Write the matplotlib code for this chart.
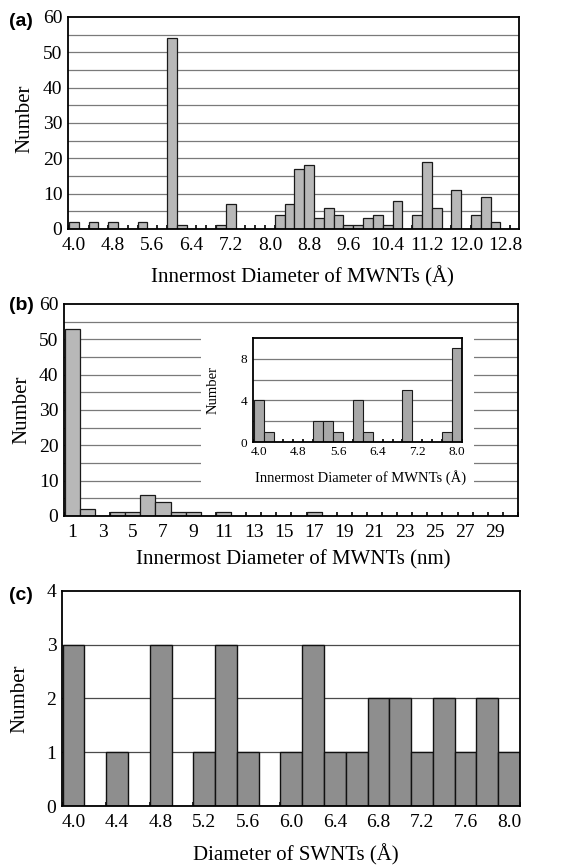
import numpy as np
import matplotlib
matplotlib.use("Agg")
import matplotlib.pyplot as plt
from matplotlib.patches import Rectangle

plt.rcParams['font.family'] = ['Liberation Serif', 'DejaVu Serif']

# (a) innermost diameter of MWNTs, 0.2 A bins from 4.0 to 12.8
a_bins = [round(4.0 + 0.2 * i, 1) for i in range(45)]
a_counts = {4.0: 2, 4.4: 2, 4.8: 2, 5.4: 2, 6.0: 54, 6.2: 1, 7.0: 1, 7.2: 7,
            8.2: 4, 8.4: 7, 8.6: 17, 8.8: 18, 9.0: 3, 9.2: 6, 9.4: 4, 9.6: 1,
            9.8: 1, 10.0: 3, 10.2: 4, 10.4: 1, 10.6: 8, 11.0: 4, 11.2: 19,
            11.4: 6, 11.8: 11, 12.2: 4, 12.4: 9, 12.6: 2}
a_values = [a_counts.get(b, 0) for b in a_bins]
a_ticklabels = ["4.0", "4.8", "5.6", "6.4", "7.2", "8.0", "8.8", "9.6",
                "10.4", "11.2", "12.0", "12.8"]

# (b) innermost diameter in nm, 1 nm bins 1..30
b_bins = list(range(1, 31))
b_counts = {1: 53, 2: 2, 4: 1, 5: 1, 6: 6, 7: 4, 8: 1, 9: 1, 11: 1, 17: 1}
b_values = [b_counts.get(b, 0) for b in b_bins]
b_ticklabels = [str(v) for v in range(1, 30, 2)]

# (b) inset, 4.0..8.0 A
ins_bins = [round(4.0 + 0.2 * i, 1) for i in range(21)]
ins_counts = {4.0: 4, 4.2: 1, 5.2: 2, 5.4: 2, 5.6: 1, 6.0: 4, 6.2: 1,
              7.0: 5, 7.8: 1, 8.0: 9}
ins_values = [ins_counts.get(b, 0) for b in ins_bins]
ins_ticklabels = ["4.0", "4.8", "5.6", "6.4", "7.2", "8.0"]

# (c) SWNT diameter
c_bins = [round(4.0 + 0.2 * i, 1) for i in range(21)]
c_values = [3, 0, 1, 0, 3, 0, 1, 3, 1, 0, 1, 3, 1, 1, 2, 2, 1, 2, 1, 2, 1]
c_ticklabels = ["4.0", "4.4", "4.8", "5.2", "5.6", "6.0", "6.4", "6.8",
                "7.2", "7.6", "8.0"]

fig = plt.figure(figsize=(5.61, 8.65), dpi=100)


def style_axes(ax, n, xlim, ylim, yticks, grid_y, ticklabels, step, fs, gcol, xpad=6):
    x = np.arange(n)
    ax.set_xlim(*xlim)
    ax.set_ylim(*ylim)
    ax.set_xticks(x[::step])
    ax.set_xticklabels(ticklabels, fontsize=fs)
    ax.set_xticks(np.arange(-0.5, n + 0.5), minor=True)
    ax.set_yticks(yticks)
    ax.tick_params(axis='y', labelsize=fs, length=0, pad=4)
    ax.tick_params(axis='x', which='major', length=0, pad=xpad)
    ax.tick_params(axis='x', which='minor', direction='in', length=3, width=1.2)
    for g in grid_y:
        ax.axhline(g, color=gcol, lw=0.9, zorder=0.5)
    for s in ax.spines.values():
        s.set_linewidth(1.3)
    return x


# panel (a)
ax1 = fig.add_axes([0.1212, 0.7353, 0.8039, 0.2451])
x = style_axes(ax1, len(a_bins), (-0.6, 45.4), (0, 60), range(0, 61, 10),
               range(5, 60, 5), a_ticklabels, 4, 14, '#7a7a7a')
ax1.bar(x, a_values, width=1.0, color='#b8b8b8', edgecolor='#1a1a1a', lw=0.9, zorder=2)
ax1.set_ylabel("Number", fontsize=15, va='center')
ax1.yaxis.set_label_coords(-0.095, 0.52)
ax1.set_xlabel("Innermost Diameter of MWNTs (Å)", fontsize=15, va='center')
ax1.xaxis.set_label_coords(0.519, -0.226)

# panel (b)
ax2 = fig.add_axes([0.1141, 0.4035, 0.8093, 0.2451])
x = style_axes(ax2, len(b_bins), (-0.55, 29.5), (0, 60), range(0, 61, 10),
               range(5, 60, 5), b_ticklabels, 2, 14, '#7a7a7a')
ax2.add_patch(Rectangle((8.55, 7.0), 18.05, 45.5, facecolor='white',
                        edgecolor='none', zorder=1))
ax2.bar(x, b_values, width=1.0, color='#b8b8b8', edgecolor='#1a1a1a', lw=0.9, zorder=2)
ax2.set_ylabel("Number", fontsize=15, va='center')
ax2.yaxis.set_label_coords(-0.093, 0.5)
ax2.set_xlabel("Innermost Diameter of MWNTs (nm)", fontsize=15, va='center')
ax2.xaxis.set_label_coords(0.504, -0.208)

# inset of (b)
axi = fig.add_axes([0.451, 0.4890, 0.3725, 0.1202])
x = style_axes(axi, len(ins_bins), (-0.57, 20.5), (0, 10), [0, 4, 8],
               [2, 4, 6, 8], ins_ticklabels, 4, 9.5, '#7a7a7a', xpad=3)
axi.bar(x, ins_values, width=1.0, color='#a8a8a8', edgecolor='#1a1a1a', lw=0.8, zorder=2)
axi.tick_params(axis='x', which='minor', length=2)
axi.set_ylabel("Number", fontsize=10.5, va='center')
axi.yaxis.set_label_coords(-0.19, 0.5)
axi.set_xlabel("Innermost Diameter of MWNTs (Å)", fontsize=10.5, va='center')
axi.xaxis.set_label_coords(0.517, -0.34)

# panel (c)
ax3 = fig.add_axes([0.1105, 0.0682, 0.8164, 0.2486])
x = style_axes(ax3, len(c_bins), (-0.53, 20.43), (0, 4), range(0, 5),
               [1, 2, 3], c_ticklabels, 2, 14, '#4a4a4a')
ax3.bar(x, c_values, width=1.0, color='#8e8e8e', edgecolor='#111111', lw=1.0, zorder=2)
ax3.set_ylabel("Number", fontsize=15, va='center')
ax3.yaxis.set_label_coords(-0.092, 0.5)
ax3.set_xlabel("Diameter of SWNTs (Å)", fontsize=15, va='center')
ax3.xaxis.set_label_coords(0.511, -0.228)

# panel letters
for lab, ypx in [("(a)", 22), ("(b)", 305), ("(c)", 595)]:
    fig.text(9 / 561, 1 - ypx / 865, lab, fontsize=14, fontweight='bold',
             family=['Liberation Sans', 'DejaVu Sans'], va='center', ha='left')

fig.savefig("out.png", dpi=100)
